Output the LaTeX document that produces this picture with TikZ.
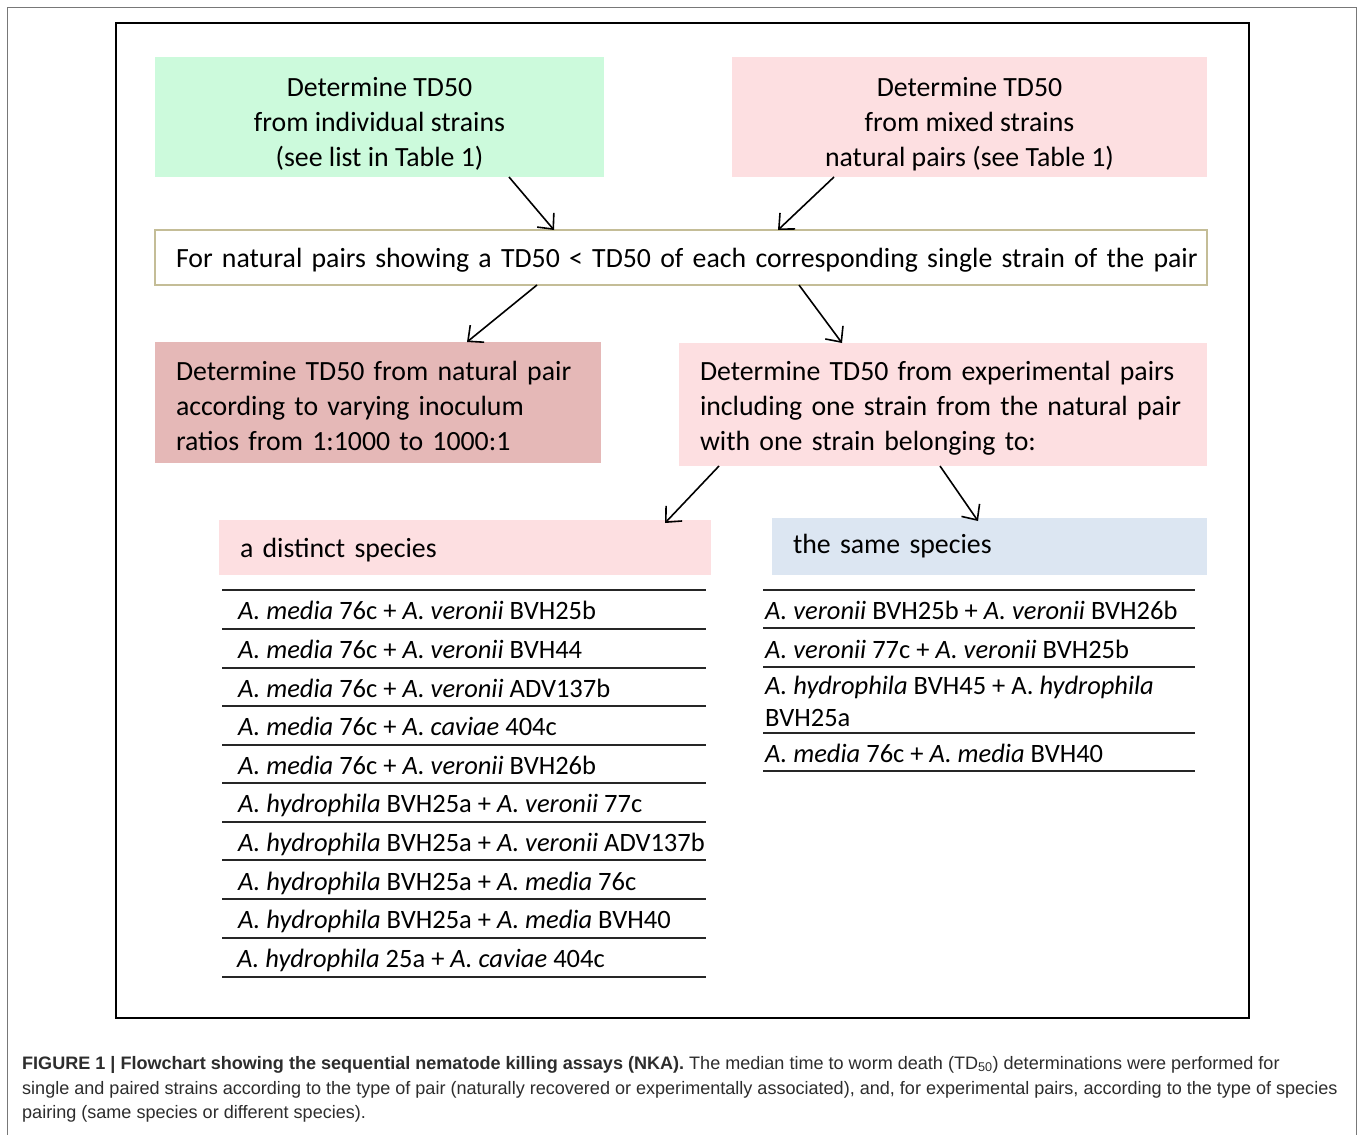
\documentclass[tikz,border=0pt]{standalone}
\usepackage{fontspec}
\setmainfont{Carlito}
\newfontfamily\capfont{Liberation Sans}
\usetikzlibrary{arrows.meta}
\definecolor{mint}{RGB}{204,250,220}
\definecolor{lpink}{RGB}{253,223,225}
\definecolor{dpink}{RGB}{229,184,183}
\definecolor{lblue}{RGB}{220,230,242}
\definecolor{tan}{RGB}{196,189,151}
\definecolor{framegray}{RGB}{120,120,120}
\definecolor{captext}{RGB}{45,45,45}
\tikzset{
  x=1pt, y=-1pt,
  box/.style={anchor=north west, inner sep=0pt, outer sep=0pt, font=\fontsize{27.8}{35}\selectfont},
  cbox/.style={box, align=center},
  lbox/.style={box, align=left, inner xsep=21pt},
  item/.style={anchor=base west, inner sep=0pt, font=\fontsize{26.5}{32}\selectfont},
  rule/.style={line width=1.4pt, black!85},
  arr/.style={line width=1.6pt, -{Straight Barb[length=12pt,width=22pt,line width=1.6pt]}},
  captxt/.style={anchor=base west, inner sep=0pt, text=captext, font=\capfont\fontsize{18.05}{25}\selectfont}
}
\begin{document}
\begin{tikzpicture}
\useasboundingbox (0,0) rectangle (1358,1135);
\fill[white] (0,0) rectangle (1358,1135);
% frames
\draw[framegray, line width=1pt] (7,1135) -- (7,7) -- (1356,7) -- (1356,1135);
\draw[black, line width=2pt] (116,23) rectangle (1249,1018);

% top boxes
\node[cbox, fill=mint, minimum width=449pt, minimum height=120pt] (indiv) at (155,57)
  {\rule{0pt}{33pt}Determine TD50\\from individual strains\\(see list in Table 1)};
\node[cbox, fill=lpink, minimum width=475pt, minimum height=120pt] (mixed) at (732,57)
  {\rule{0pt}{33pt}Determine TD50\\from mixed strains\\natural pairs (see Table 1)};

% wide box
\node[lbox, draw=tan, line width=2pt, fill=white, minimum height=55pt,
  text width=1010pt] (cond) at (155,230)
  {\rule{0pt}{24pt}\mbox{For natural pairs showing a TD50 < TD50 of each corresponding single strain of the pair}};

% second level
\node[lbox, fill=dpink, minimum height=121pt, text width=404pt] (ratio) at (155,342)
  {\rule{0pt}{27pt}\mbox{Determine TD50 from natural pair}\\\mbox{according to varying inoculum}\\\mbox{ratios from 1:1000 to 1000:1}};
\node[lbox, fill=lpink, minimum height=123pt, text width=486pt] (exper) at (679,343)
  {\rule{0pt}{26pt}\mbox{Determine TD50 from experimental pairs}\\\mbox{including one strain from the natural pair}\\\mbox{with one strain belonging to:}};

% third level
\node[lbox, fill=lpink, minimum height=55pt, text width=450pt] (distinct) at (219,520)
  {\rule{0pt}{24pt}a distinct species};
\node[lbox, fill=lblue, minimum height=57pt, text width=393pt] (same) at (772,518)
  {the same species};

% arrows
\draw[arr] (indiv.south -| 509,0) -- (cond.north -| 554,0);
\draw[arr] (mixed.south -| 834,0) -- (cond.north -| 778,0);
\draw[arr] (cond.south -| 537,0) -- (ratio.north -| 467,0);
\draw[arr] (cond.south -| 799,0) -- (exper.north -| 842,0);
\draw[arr] (exper.south -| 719,0) -- ([yshift=-3pt]distinct.north -| 665,0);
\draw[arr] (exper.south -| 940,0) -- ([yshift=-3pt]same.north -| 978,0);

% left list
\foreach \y in {590,629,668,706,745,783,822,860,899,938,977}
  \draw[rule] (222,\y) -- (706,\y);
\node[item] (d1) at (238,619) {\textit{A. media} 76c + \textit{A. veronii} BVH25b};
\node[item] (d2) at (238,658) {\textit{A. media} 76c + \textit{A. veronii} BVH44};
\node[item] (d3) at (238,697) {\textit{A. media} 76c + \textit{A. veronii} ADV137b};
\node[item] (d4) at (238,735) {\textit{A. media} 76c + \textit{A. caviae} 404c};
\node[item] (d5) at (238,774) {\textit{A. media} 76c + \textit{A. veronii} BVH26b};
\node[item] (d6) at (238,812) {\textit{A. hydrophila} BVH25a + \textit{A. veronii} 77c};
\node[item] (d7) at (238,851) {\textit{A. hydrophila} BVH25a + \textit{A. veronii} ADV137b};
\node[item] (d8) at (238,890) {\textit{A. hydrophila} BVH25a + \textit{A. media} 76c};
\node[item] (d9) at (238,928) {\textit{A. hydrophila} BVH25a + \textit{A. media} BVH40};
\node[item] (d10) at (237,967) {\textit{A. hydrophila} 25a + \textit{A. caviae} 404c};

% right list
\foreach \y in {590,628,667,733,771}
  \draw[rule] (763,\y) -- (1195,\y);
\node[item] (s1) at (765,619) {\textit{A. veronii} BVH25b + \textit{A. veronii} BVH26b};
\node[item] (s2) at (765,658) {\textit{A. veronii} 77c + \textit{A. veronii} BVH25b};
\node[item, align=left] (s3) at (765,726) {\textit{A. hydrophila} BVH45 + A. \textit{hydrophila}\\BVH25a};
\node[item] (s4) at (765,762) {\textit{A. media} 76c + \textit{A. media} BVH40};

% caption
\node[captxt] (cap1) at (22,1069) {\textbf{FIGURE 1 | Flowchart showing the sequential nematode killing assays (NKA).} The median time to worm death (TD\textsubscript{50}) determinations were performed for};
\node[captxt] (cap2) at (22,1094) {single and paired strains according to the type of pair (naturally recovered or experimentally associated), and, for experimental pairs, according to the type of species};
\node[captxt] (cap3) at (22,1118) {pairing (same species or different species).};
\end{tikzpicture}
\end{document}
